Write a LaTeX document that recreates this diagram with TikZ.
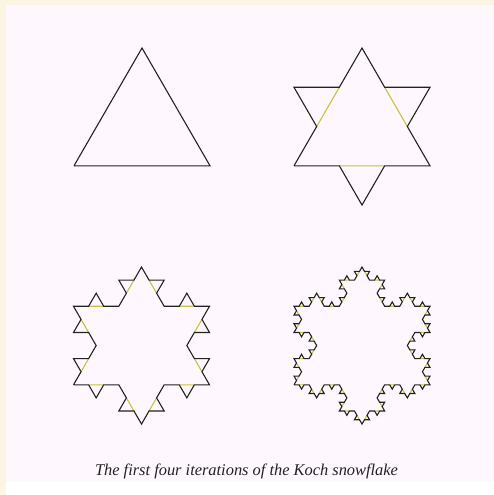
\documentclass[tikz,border=0pt]{standalone}
\usepackage{fontspec}
\setmainfont{Liberation Serif}
\usetikzlibrary{lindenmayersystems}
\pgfdeclarelindenmayersystem{Koch}{\rule{F -> F-F++F-F}}
\definecolor{creamc}{HTML}{FDF5E3}
\definecolor{pinkc}{HTML}{FEF8FE}
\definecolor{edgec}{HTML}{222222}
\definecolor{basec}{HTML}{C8C040}
\tikzset{
  kochline/.style={draw=edgec, line width=1.1pt, line join=miter},
  baseline/.style={draw=basec, line width=1.1pt}
}
\begin{document}
\begin{tikzpicture}[x=1pt,y=-1pt]
\useasboundingbox (0,0) rectangle (494,495);
\fill[white] (0,0) rectangle (494,495);
\fill[creamc] (0,0) rectangle (494,5);
\fill[creamc] (0,0) rectangle (6,495);
\fill[pinkc] (6,5) rectangle (494,482);
% corners of the base triangles (left end of base)
\coordinate (A) at (74,165.8);
\coordinate (B) at (294,165.8);
\coordinate (C) at (73.5,384.8);
\coordinate (D) at (294,384.8);
% iteration 1
\draw[shift={(A)}, kochline, lindenmayer system={Koch, axiom=F++F++F, order=0, step=136pt, angle=60}]
  (0,0) lindenmayer system;
% iteration 2
\draw[shift={(B)}, baseline, dash pattern=on 0pt off 45.333pt on 45.333pt off 45.333pt,
  lindenmayer system={Koch, axiom=F++F++F, order=0, step=136pt, angle=60}]
  (0,0) lindenmayer system;
\draw[shift={(B)}, kochline, lindenmayer system={Koch, axiom=F++F++F, order=1, step=45.333pt, angle=60}]
  (0,0) lindenmayer system;
% iteration 3
\draw[shift={(C)}, baseline, dash pattern=on 0pt off 15.111pt on 15.111pt off 15.111pt,
  lindenmayer system={Koch, axiom=F++F++F, order=1, step=45.333pt, angle=60}]
  (0,0) lindenmayer system;
\draw[shift={(C)}, kochline, lindenmayer system={Koch, axiom=F++F++F, order=2, step=15.111pt, angle=60}]
  (0,0) lindenmayer system;
% iteration 4
\draw[shift={(D)}, baseline, dash pattern=on 0pt off 5.037pt on 5.037pt off 5.037pt,
  lindenmayer system={Koch, axiom=F++F++F, order=2, step=15.111pt, angle=60}]
  (0,0) lindenmayer system;
\draw[shift={(D)}, kochline, lindenmayer system={Koch, axiom=F++F++F, order=3, step=5.037pt, angle=60}]
  (0,0) lindenmayer system;
\node[anchor=base, font=\itshape\fontsize{16.4}{19}\selectfont, text=edgec, inner sep=0pt]
  (cap) at (246.5,475) {The first four iterations of the Koch snowflake};
\end{tikzpicture}
\end{document}
